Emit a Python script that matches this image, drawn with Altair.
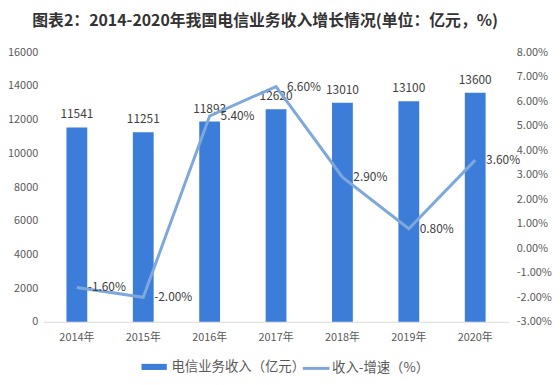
import altair as alt
import pandas as pd

years = ["2014年", "2015年", "2016年", "2017年", "2018年", "2019年", "2020年"]
revenue = [11541, 11251, 11893, 12620, 13010, 13100, 13600]
growth = [-1.6, -2.0, 5.4, 6.6, 2.9, 0.8, 3.6]

bar_name = "电信业务收入（亿元）"
line_name = "收入-增速（%）"

df = pd.DataFrame({"year": years, "revenue": revenue, "growth": growth,
                   "s1": bar_name, "s2": line_name})

FONT = "Noto Sans CJK SC"
BAR = "#3b7dd8"
LINE = "#7ea8dc"

x = alt.X("year:N", sort=years, title=None,
          scale=alt.Scale(paddingInner=0, paddingOuter=0),
          axis=alt.Axis(labelAngle=0, ticks=False, grid=False, labelPadding=10, domainColor="#d9d9d9",
                        labelFontSize=11, labelColor="#595959", labelFont=FONT))

yl_scale = alt.Scale(domain=[0, 16000], nice=False)
yr_scale = alt.Scale(domain=[-3, 8], nice=False)

yl = alt.Y("revenue:Q", title=None, scale=yl_scale,
           axis=alt.Axis(orient="left", values=list(range(0, 16001, 2000)), format="d", grid=False,
                         ticks=False, domain=False, labelOverlap=False,
                         labelPadding=6, labelFontSize=11, labelColor="#595959", labelFont=FONT))

yr = alt.Y("growth:Q", title=None, scale=yr_scale,
           axis=alt.Axis(orient="right", values=list(range(-3, 9)), grid=False, ticks=False,
                         domain=False, labelOverlap=False,
                         labelExpr="replace(format(datum.value, '.2f'), '\u2212', '-') + '%'",
                         labelPadding=8, labelFontSize=11, labelColor="#595959", labelFont=FONT))

base = alt.Chart(df)
noview = alt.ViewBackground(stroke=None)

bars = base.mark_bar(size=21).encode(
    x=x, y=yl,
    color=alt.Color("s1:N", scale=alt.Scale(domain=[bar_name], range=[BAR]),
                    legend=alt.Legend(title=None, orient="none", legendX=98, legendY=304,
                                      symbolType="M-1,-0.24H1V0.24H-1Z", symbolSize=650,
                                      labelFontSize=13.5, labelColor="#595959", labelFont=FONT,
                                      labelOffset=4)),
).properties(view=noview)

bar_text = base.mark_text(dy=-6, baseline="bottom", fontSize=12, color="#404040", font=FONT).encode(
    x=x, y=alt.Y("revenue:Q", scale=yl_scale, axis=None),
    text=alt.Text("revenue:Q", format="d")).properties(view=noview)

line = base.mark_line(strokeWidth=3).encode(
    x=x, y=yr,
    stroke=alt.Stroke("s2:N", scale=alt.Scale(domain=[line_name], range=[LINE]),
                      legend=alt.Legend(title=None, orient="none", legendX=260, legendY=304,
                                        symbolType="stroke", symbolSize=729, symbolStrokeWidth=3,
                                        labelFontSize=13.5, labelColor="#595959", labelFont=FONT,
                                        labelOffset=1)),
).properties(view=noview)

line_text = base.transform_calculate(
    lab="replace(format(datum.growth, '.2f'), '\u2212', '-') + '%'"
).mark_text(align="left", baseline="middle", dx=11, fontSize=12, color="#404040", font=FONT).encode(
    x=x, y=alt.Y("growth:Q", scale=yr_scale, axis=None), text="lab:N").properties(view=noview)

chart = alt.layer(bars, bar_text, line, line_text).resolve_scale(
    y="independent", color="independent").properties(
    width=469, height=272,
    view=noview,
    autosize=alt.AutoSizeParams(type="none"),
    padding={"left": 36, "top": 43, "right": 44, "bottom": 54},
    title=alt.Title("图表2：2014-2020年我国电信业务收入增长情况(单位：亿元，%)",
                    fontSize=16, fontWeight="bold", font=FONT, color="#333333",
                    anchor="middle", offset=18, dx=-11),
).configure_view(stroke=None).configure_axisY(domain=False).configure(background="white")

chart.save("out.html", embed_options={"renderer": "svg", "actions": False})
